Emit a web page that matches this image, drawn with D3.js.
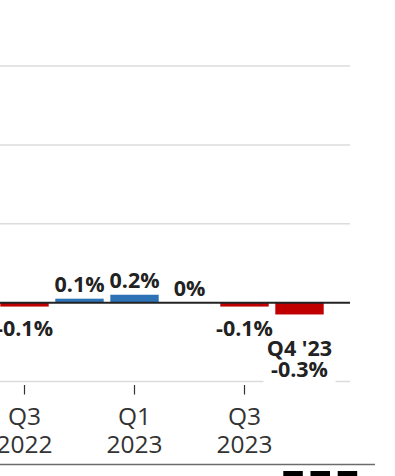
<!DOCTYPE html>
<html>
<head>
<meta charset="utf-8">
<script src="https://cdn.jsdelivr.net/npm/d3@7"></script>
<style>
  html, body { margin: 0; padding: 0; background: #fff; }
  svg { display: block; }
</style>
</head>
<body>
<svg id="chart" width="395" height="476"></svg>
<script>
const categories = ["Q3 2022", "Q4 2022", "Q1 2023", "Q2 2023", "Q3 2023", "Q4 2023"];
const values = [-0.1, 0.1, 0.2, 0.0, -0.1, -0.3];
const valueLabels = ["-0.1%", "0.1%", "0.2%", "0%", "-0.1%", "-0.3%"];
const tickCategories = ["Q3 2022", "Q1 2023", "Q3 2023"];
const tickLabels = [["Q3", "2022"], ["Q1", "2023"], ["Q3", "2023"]];
const gridValues = [-2, 0, 2, 4, 6];
const lastAnnotation = ["Q4 '23", "-0.3%"];

const svg = d3.select("#chart");
const FONT = "'Open Sans', 'Noto Sans', sans-serif";

const x = d3.scaleBand().domain(categories).range([-3, 327]).paddingInner(0.12).paddingOuter(0.06);
const y = d3.scaleLinear().domain([-2, 6]).range([381.5, 66]);

// gridlines
svg.append("g").selectAll("line").data(gridValues.filter(v => v !== 0)).join("line")
  .attr("x1", -10).attr("x2", 350)
  .attr("y1", d => y(d)).attr("y2", d => y(d))
  .attr("stroke", "#dcdcdc").attr("stroke-width", 1.5);

// bars
svg.append("g").selectAll("rect").data(values).join("rect")
  .attr("x", (d, i) => x(categories[i]))
  .attr("width", x.bandwidth())
  .attr("y", d => y(Math.max(0, d)))
  .attr("height", d => Math.abs(y(d) - y(0)))
  .attr("fill", d => d >= 0 ? "#2e72b6" : "#c00000");

// zero line
svg.append("line").attr("x1", -10).attr("x2", 350)
  .attr("y1", y(0)).attr("y2", y(0))
  .attr("stroke", "#222").attr("stroke-width", 2);

// value labels
const lastIdx = values.length - 1;
svg.append("g").selectAll("text").data(values.slice(0, lastIdx)).join("text")
  .attr("x", (d, i) => x(categories[i]) + x.bandwidth() / 2)
  .attr("y", d => d >= 0 ? y(d) - 6.5 : y(d) + 29)
  .attr("text-anchor", "middle")
  .attr("font-family", FONT).attr("font-weight", 700).attr("font-size", 21.5)
  .attr("fill", "#222")
  .text((d, i) => valueLabels[i]);

// last annotation with white background
const lx = x(categories[lastIdx]) + x.bandwidth() / 2;
const ly = y(values[lastIdx]);
svg.append("rect").attr("x", lx - 36).attr("y", ly + 26).attr("width", 72).attr("height", 43)
  .attr("fill", "#fff");
svg.append("g").selectAll("text").data(lastAnnotation).join("text")
  .attr("x", lx)
  .attr("y", (d, i) => ly + 42 + i * 21)
  .attr("text-anchor", "middle")
  .attr("font-family", FONT).attr("font-weight", 700).attr("font-size", 21.5)
  .attr("fill", "#222")
  .text(d => d);

// x ticks
const tg = svg.append("g").selectAll("g").data(tickCategories).join("g")
  .attr("transform", d => `translate(${x(d) + x.bandwidth() / 2},0)`);
tg.append("line").attr("y1", 385).attr("y2", 394.5)
  .attr("stroke", "#333").attr("stroke-width", 1.2);
tg.each(function(d, i) {
  d3.select(this).selectAll("text").data(tickLabels[i]).join("text")
    .attr("y", (t, j) => 424.5 + j * 28.5)
    .attr("text-anchor", "middle")
    .attr("font-family", FONT).attr("font-size", 24.5)
    .attr("fill", "#333")
    .text(t => t);
});

// bottom rule
svg.append("line").attr("x1", 0).attr("x2", 375).attr("y1", 464.5).attr("y2", 464.5)
  .attr("stroke", "#6b6b6b").attr("stroke-width", 1.5);

// BBC logo blocks
const logoLetters = ["B", "B", "C"];
const lg = svg.append("g").selectAll("g").data(logoLetters).join("g")
  .attr("transform", (d, i) => `translate(${283.3 + i * 27.2},471)`);
lg.append("rect").attr("width", 19.5).attr("height", 19.5).attr("fill", "#000");
lg.append("text").attr("x", 9.75).attr("y", 15).attr("text-anchor", "middle")
  .attr("font-family", "'Liberation Sans', sans-serif").attr("font-weight", 700)
  .attr("font-size", 14).attr("fill", "#fff").text(d => d);
</script>
</body>
</html>
